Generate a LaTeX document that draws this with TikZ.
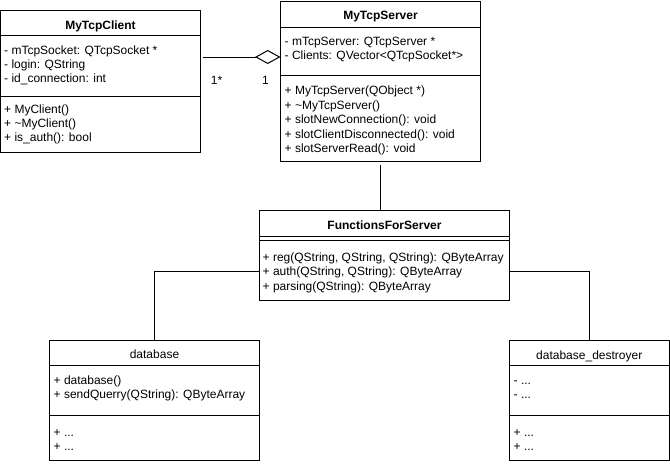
\documentclass[tikz,border=0pt]{standalone}
\usepackage{fontspec}
\setmainfont{Liberation Sans}
\usetikzlibrary{arrows.meta,calc}
\tikzset{
  umlbox/.style={draw=black, line width=1pt, fill=white, inner sep=0pt, outer sep=0pt, anchor=north west},
  member/.style={anchor=base west, inner sep=0pt, font=\fontsize{12}{14.4}\selectfont},
  btitle/.style={anchor=base, inner sep=0pt, font=\fontsize{12}{14.4}\selectfont\bfseries},
  ptitle/.style={anchor=base, inner sep=0pt, font=\fontsize{12}{14.4}\selectfont},
  sepline/.style={line width=1pt},
  conn/.style={line width=1pt, draw=black},
  mult/.style={inner sep=0pt, font=\fontsize{12}{14.4}\selectfont},
}
\begin{document}
\begin{tikzpicture}[x=1pt,y=-1pt]
\useasboundingbox (0,0) rectangle (670,464);
\fill[white] (0,0) rectangle (670,464);

% ---------- MyTcpClient ----------
\node[umlbox, minimum width=200pt, minimum height=142pt] (client) at (0.5,10) {};
\draw[sepline] ($(client.north west)+(0,25)$) -- ($(client.north east)+(0,25)$);
\draw[sepline] ($(client.north west)+(0,86.5)$) -- ($(client.north east)+(0,86.5)$);
\node[btitle] (ct) at ($(client.north)+(0,19)$) {MyTcpClient};
\node[member] (ca1) at (4,54) {- mTcpSocket: QTcpSocket *};
\node[member] (ca2) at (4,68.2) {- login: QString};
\node[member] (ca3) at (4,82.4) {- id\_connection: int};
\node[member] (cm1) at (4,113.3) {+ MyClient()};
\node[member] (cm2) at (4,127.5) {+ \textasciitilde MyClient()};
\node[member] (cm3) at (4,141.7) {+ is\_auth(): bool};

% ---------- MyTcpServer ----------
\node[umlbox, minimum width=200pt, minimum height=160pt] (server) at (280.5,1) {};
\draw[sepline] ($(server.north west)+(0,26)$) -- ($(server.north east)+(0,26)$);
\draw[sepline] ($(server.north west)+(0,74)$) -- ($(server.north east)+(0,74)$);
\node[btitle] (st) at ($(server.north)+(0,18)$) {MyTcpServer};
\node[member] (sa1) at (284.5,45) {- mTcpServer: QTcpServer *};
\node[member] (sa2) at (284.5,59.2) {- Clients: QVector<QTcpSocket*>};
\node[member] (sm1) at (284.5,94.8) {+ MyTcpServer(QObject *)};
\node[member] (sm2) at (284.5,109.3) {+ \textasciitilde MyTcpServer()};
\node[member] (sm3) at (284.5,123.8) {+ slotNewConnection(): void};
\node[member] (sm4) at (284.5,138.3) {+ slotClientDisconnected(): void};
\node[member] (sm5) at (284.5,152.8) {+ slotServerRead(): void};

% ---------- FunctionsForServer ----------
\node[umlbox, minimum width=250pt, minimum height=90pt] (functions) at (259.5,210) {};
\draw[sepline] ($(functions.north west)+(0,26)$) -- ($(functions.north east)+(0,26)$);
\draw[sepline] ($(functions.north west)+(0,30)$) -- ($(functions.north east)+(0,30)$);
\node[btitle] (ft) at ($(functions.north)+(0,19)$) {FunctionsForServer};
\node[member] (fm1) at (262.5,261.3) {+ reg(QString, QString, QString): QByteArray};
\node[member] (fm2) at (262.5,275.6) {+ auth(QString, QString): QByteArray};
\node[member] (fm3) at (262.5,290) {+ parsing(QString): QByteArray};

% ---------- database ----------
\node[umlbox, minimum width=210pt, minimum height=120pt] (database) at (49.5,340) {};
\draw[sepline] ($(database.north west)+(0,25.7)$) -- ($(database.north east)+(0,25.7)$);
\draw[sepline] ($(database.north west)+(0,75)$) -- ($(database.north east)+(0,75)$);
\node[ptitle] (dt) at ($(database.north)+(0,18)$) {database};
\node[member] (da1) at (53.5,384) {+ database()};
\node[member] (da2) at (53.5,398.2) {+ sendQuerry(QString): QByteArray};
\node[member] (dm1) at (53.5,436) {+ ...};
\node[member] (dm2) at (53.5,450) {+ ...};

% ---------- database_destroyer ----------
\node[umlbox, minimum width=159.5pt, minimum height=120pt] (destroyer) at (509.5,340) {};
\draw[sepline] ($(destroyer.north west)+(0,25.7)$) -- ($(destroyer.north east)+(0,25.7)$);
\draw[sepline] ($(destroyer.north west)+(0,75)$) -- ($(destroyer.north east)+(0,75)$);
\node[ptitle] (xt) at ($(destroyer.north)+(0,19)$) {database\_destroyer};
\node[member] (xa1) at (513.5,384) {- ...};
\node[member] (xa2) at (513.5,398.2) {- ...};
\node[member] (xm1) at (513.5,436) {+ ...};
\node[member] (xm2) at (513.5,450) {+ ...};

% ---------- connectors ----------
\coordinate (aggy) at (0,57);
\draw[conn, shorten <=2.5pt, -{Diamond[open, fill=white, length=25.5pt, width=14pt]}]
  (client.east |- aggy) -- (server.west |- aggy);
\node[mult] (m1) at (216.5,80) {1*};
\node[mult] (m2) at (265.5,80) {1};

\draw[conn, shorten <=4pt] (server.south) -- (server.south |- functions.north);

\coordinate (fy) at (0,271.7);
\draw[conn] (functions.west |- fy) -| (database.north);
\draw[conn] (functions.east |- fy) -| (destroyer.north);
\end{tikzpicture}
\end{document}
